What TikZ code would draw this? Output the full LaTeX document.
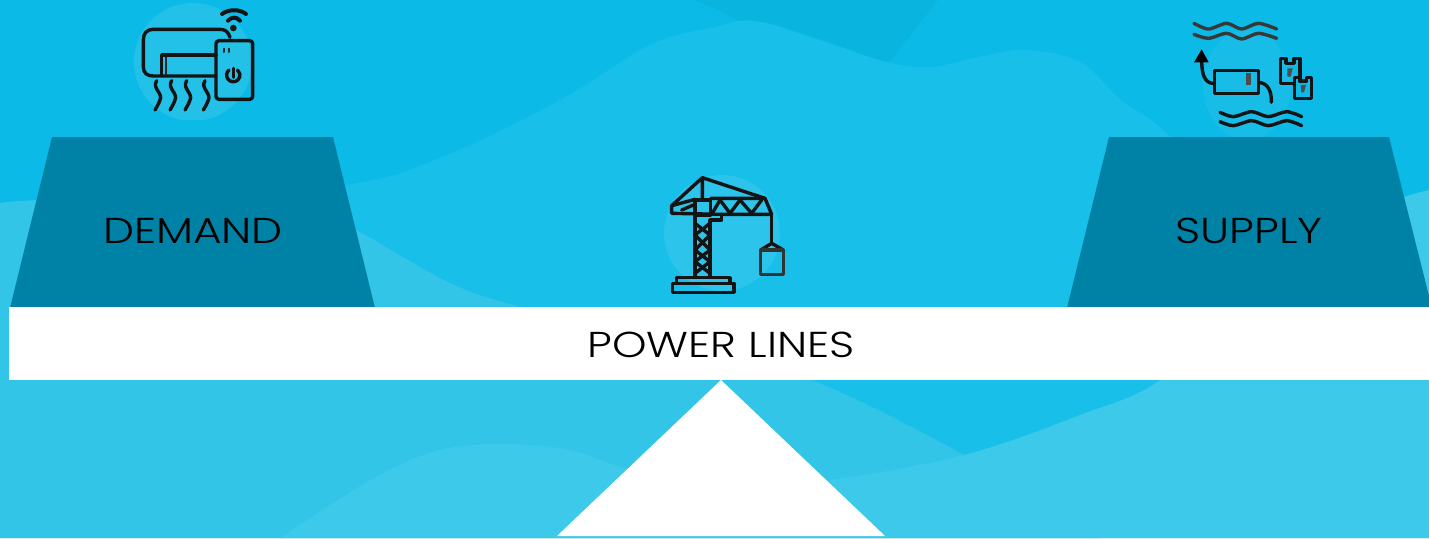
\documentclass[tikz,border=0pt]{standalone}
\usepackage{fontspec}
\setmainfont{Poppins}[UprightFont={* Light},FakeStretch=1.22]
\definecolor{bgbase}{HTML}{0BBAE6}
\definecolor{bgdark}{HTML}{09B5DF}
\definecolor{bgone}{HTML}{18BFE9}
\definecolor{bgtwo}{HTML}{32C5E8}
\definecolor{bgthree}{HTML}{3DC9EA}
\definecolor{slab}{HTML}{0082A6}
\tikzset{
  ico/.style={line width=3.4pt,black!92,line join=round,line cap=round},
  thinico/.style={line width=2pt,black!85,line join=round,line cap=round},
  label/.style={font=\fontsize{36}{36}\selectfont,text=black,inner sep=0pt,anchor=base},
  zone/.style={x=1pt/3,y=-1pt/3}
}
\begin{document}
\begin{tikzpicture}[x=1pt,y=-1pt]
\useasboundingbox (0,0) rectangle (1429,538);
% background waves
\fill[bgbase] (0,0) rectangle (1429,538);
\fill[bgdark] (693,0) -- (715,8) -- (745,24) -- (886,66) -- (938,0) -- cycle;
\fill[bgone] plot[smooth,tension=.6] coordinates {(0,203) (40,201) (200,196) (351,184) (440,158) (560,100) (650,45) (715,27) (755,21) (820,40) (886,62) (930,67) (979,57) (1025,50) (1080,62) (1121,100) (1171,137) (1280,250) (1429,400)} -- (1429,538) -- (0,538) -- cycle;
\fill[bgtwo] plot[smooth,tension=.6] coordinates {(0,203) (40,200) (200,195) (300,205) (356,230) (450,283) (520,307) (660,345) (811,380) (964,455)} -- (1100,538) -- (0,538) -- cycle;
\fill[bgthree] plot[smooth,tension=.6] coordinates {(280,538) (374,478) (440,450) (505,444) (570,450) (625,468) (720,488) (829,480) (964,455) (1080,415) (1160,380) (1240,300) (1340,220) (1404,197) (1429,190)} -- (1429,538) -- cycle;
% halo discs
\begin{scope}
\clip (120,0) rectangle (270,119);
\fill[white,opacity=.1] (193,62) circle (59);
\end{scope}
\fill[white,opacity=.05] (1247,85) ellipse (44 and 55);
\fill[white,opacity=.09] (722,233) circle (58);
% slabs and beam
\fill[slab] (52,137) -- (333,137) -- (375,308) -- (10,308) -- cycle;
\fill[slab] (1109,137) -- (1389,137) -- (1432,308) -- (1067,308) -- cycle;
\fill[white] (9,307) rectangle (1429,380);
\fill[white] (721,380) -- (885,536) -- (557,536) -- cycle;
% labels
\node[label] (demand) at (193,243) {DEMAND};
\node[label] (supply) at (1249,243) {SUPPLY};
\node[label] (power) at (721,357) {POWER LINES};
% air conditioner icon
\begin{scope}[shift={(110,0)},zone]
\draw[ico] (360,112) .. controls (355,95) and (345,88) .. (330,88) -- (130,88) .. controls (110,88) and (100,100) .. (100,120) -- (100,200) .. controls (100,220) and (112,228) .. (130,228) -- (318,228);
\draw[ico] (155,225) -- (155,165) -- (318,165);
\draw[thinico] (168,225) -- (168,172);
\draw[ico,rounded corners=3pt] (318,122) rectangle (428,298);
\draw[thinico] (342,146) -- (342,156) (358,146) -- (358,156);
\draw[ico] (357,210) arc[start angle=230,end angle=-50,radius=20];
\draw[ico] (370,205) -- (370,232);
\draw[ico,line width=4pt] (336,42) .. controls (355,27) and (390,27) .. (408,42);
\draw[ico,line width=4pt] (354,62) .. controls (365,50) and (380,50) .. (390,62);
\fill[black!90] (370,84) circle (10);
\foreach \X in {0,45,90,145}{
  \draw[ico] (140+\X,242) .. controls (125+\X,265) and (160+\X,280) .. (150+\X,300) .. controls (145+\X,315) and (140+\X,320) .. (135+\X,330);
}
\end{scope}
% crane icon
\begin{scope}[shift={(640,165)},zone]
\draw[ico] (187,38) -- (95,122) (187,38) -- (375,100) (187,38) -- (187,105);
\draw[ico] (95,122) -- (95,145) -- (245,148) -- (395,148) -- (375,100) -- (212,100);
\draw[ico] (95,122) -- (165,103);
\draw[ico] (165,105) rectangle (212,150);
\draw[ico] (215,148) -- (240,105) -- (270,145) -- (300,105) -- (335,145) -- (365,105);
\draw[ico] (245,148) -- (245,165) -- (212,165);
\draw[ico] (125,135) -- (160,120);
\draw[ico] (165,150) -- (165,335) (210,165) -- (210,335);
\draw[ico] (165,175) -- (210,210) -- (165,255) -- (210,290) -- (165,325);
\draw[ico] (210,175) -- (165,210) -- (210,255) -- (165,290) -- (210,325);
\draw[ico] (110,352) -- (110,338) -- (270,338) -- (270,352);
\draw[ico] (98,382) rectangle (282,355);
\draw[ico] (395,148) -- (395,235);
\draw[ico] (362,255) -- (395,235) -- (430,255);
\draw[ico,draw=black!80] (362,255) rectangle (430,328);
\end{scope}
% supply icon
\begin{scope}[shift={(1170,5)},zone]
\draw[ico,draw=black!78] plot[smooth] coordinates {(72,55) (115,72) (170,55) (215,72) (265,55) (320,72)};
\draw[ico,draw=black!78] plot[smooth] coordinates {(72,88) (115,100) (170,85) (215,102) (265,85) (320,100)};
\draw[ico] plot[smooth] coordinates {(150,322) (190,335) (245,320) (295,335) (350,320) (395,335)};
\draw[ico] plot[smooth] coordinates {(150,350) (190,362) (245,347) (295,362) (350,347) (395,362)};
\draw[ico] (133,197) rectangle (265,265);
\draw[ico] (130,235) .. controls (105,235) and (95,210) .. (95,165);
\fill (72,172) -- (95,133) -- (116,172) -- cycle;
\draw[ico] (267,232) .. controls (295,235) and (305,260) .. (304,292);
\fill[black!70] (228,205) rectangle (243,240);
\draw[ico] (332,235) -- (332,160) -- (348,160) -- (348,175) -- (372,175) -- (372,160) -- (390,160) -- (390,235) -- cycle;
\draw[ico,fill=bgbase] (374,280) -- (374,218) -- (388,218) -- (388,228) -- (410,228) -- (410,218) -- (425,218) -- (425,280) -- cycle;
\fill[black!70] (352,190) -- (368,190) -- (362,215) -- (352,215) -- cycle;
\fill[black!70] (392,240) -- (408,240) -- (402,262) -- (394,262) -- cycle;
\end{scope}
\end{tikzpicture}
\end{document}
